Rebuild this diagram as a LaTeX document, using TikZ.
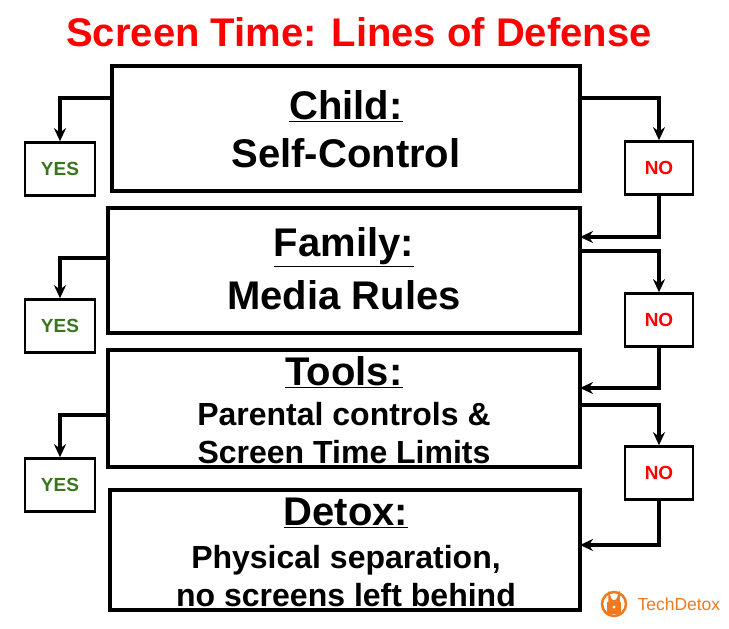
\documentclass[tikz,border=0pt]{standalone}
\usepackage{fontspec}
\setmainfont{Liberation Sans}
\usetikzlibrary{arrows.meta}
\definecolor{ygreen}{RGB}{56,118,29}
\definecolor{logoor}{RGB}{240,120,30}
\begin{document}
\begin{tikzpicture}[x=1pt,y=-1pt,
  bigbox/.style={draw,line width=3.2pt},
  yesbox/.style={draw,line width=2.6pt,minimum width=70pt,minimum height=53pt,text=ygreen,font=\bfseries\fontsize{19}{22}\selectfont},
  nobox/.style={draw,line width=2.6pt,minimum width=68pt,minimum height=53pt,text=red,font=\bfseries\fontsize{19}{22}\selectfont},
  conn/.style={line width=3.2pt,-{Stealth[length=13pt,width=12pt]}},
  hd/.style={font=\bfseries\fontsize{40}{44}\selectfont},
  tx/.style={font=\bfseries\fontsize{40}{44}\selectfont},
  sm/.style={font=\bfseries\fontsize{32}{38}\selectfont,align=center}]
\useasboundingbox (0,0) rectangle (729,629);
\node[text=red,font=\bfseries\fontsize{40}{44}\selectfont] (title) at (359,32) {Screen Time: Lines of Defense};
\draw[bigbox] (112,66) rectangle (580,191);
\draw[bigbox] (108,208) rectangle (580,333);
\draw[bigbox] (108,350) rectangle (580,467);
\draw[bigbox] (110,490) rectangle (580,610);
\coordinate (b1l) at (112,98); \coordinate (b1r) at (580,98);
\coordinate (b2l) at (108,258); \coordinate (b2r) at (580,251); \coordinate (b2in) at (580,237);
\coordinate (b3l) at (108,415); \coordinate (b3r) at (580,405); \coordinate (b3in) at (580,388);
\coordinate (b4in) at (580,545);
\node[hd] (h1) at (346,106) {\underline{Child:}};
\node[tx] (t1) at (346,153) {Self-Control};
\node[hd] (h2) at (344,247) {\underline{Family:}};
\node[tx] (t2) at (344,295) {Media Rules};
\node[hd] (h3) at (344,372) {\underline{Tools:}};
\node[sm] (t3) at (344,433) {Parental controls \&\\Screen Time Limits};
\node[hd] (h4) at (346,513) {\underline{Detox:}};
\node[sm] (t4) at (346,576) {Physical separation,\\no screens left behind};
\node[yesbox] (y1) at (60,169) {YES};
\node[yesbox] (y2) at (60,326) {YES};
\node[yesbox] (y3) at (60,485) {YES};
\node[nobox] (n1) at (659,168) {NO};
\node[nobox] (n2) at (659,320) {NO};
\node[nobox] (n3) at (659,473) {NO};
\draw[conn] (b1l) -| (y1.north);
\draw[conn] (b2l) -| (y2.north);
\draw[conn] (b3l) -| (y3.north);
\draw[conn] (b1r) -| (n1.north);
\draw[conn] (b2r) -| (n2.north);
\draw[conn] (b3r) -| (n3.north);
\draw[conn] (n1.south) |- (b2in);
\draw[conn] (n2.south) |- (b3in);
\draw[conn] (n3.south) |- (b4in);
\draw[logoor,line width=2.5pt] (614,604) circle (12);
\fill[logoor] (607,602) rectangle (621,614);
\draw[logoor,line width=2.5pt] (609.5,602) -- (609.5,597) arc (180:0:4.5) -- (618.5,602);
\fill[white] (614,607) circle (1.6);
\node[text=logoor,font=\fontsize{17.5}{20}\selectfont,anchor=west] (logo) at (634,604) {TechDetox};
\end{tikzpicture}
\end{document}
